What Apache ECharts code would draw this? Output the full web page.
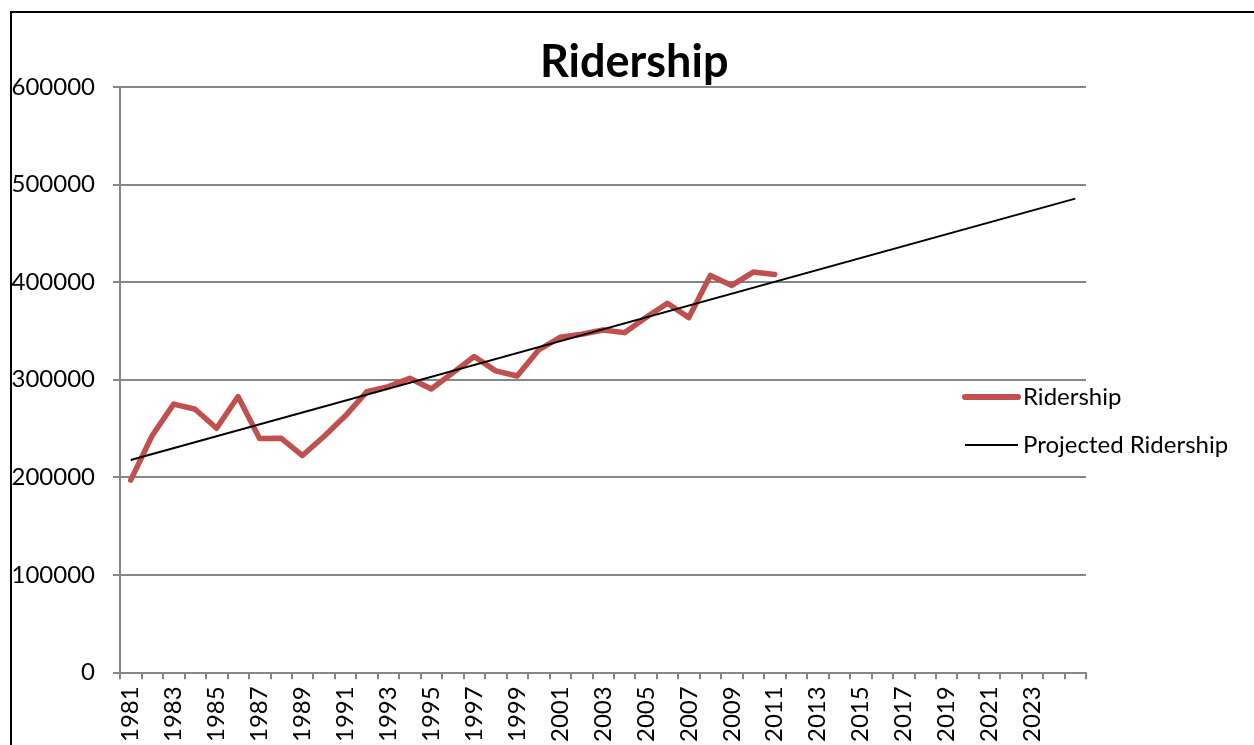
<!DOCTYPE html>
<html>
<head>
<meta charset="utf-8">
<script src="https://cdn.jsdelivr.net/npm/echarts@6/dist/echarts.min.js"></script>
<style>
  html, body { margin: 0; padding: 0; background: #fff; }
  #chart { width: 1254px; height: 745px; }
</style>
</head>
<body>
<div id="chart"></div>
<script>
// years on the category axis (Excel chart runs out to 2025)
var years = [];
for (var y = 1981; y <= 2025; y++) years.push(String(y));

// ridership, 1981 - 2011
var ridership = [
  197000, 242700, 274900, 269700, 250200, 282700, 239600, 240000, 222200, 241700,
  262900, 287800, 292900, 301500, 290400, 307000, 323800, 309000, 303800, 330400,
  343400, 346500, 350900, 348200, 363600, 378300, 363600, 406800, 396600, 410300,
  407800
];

// projected (trend) line: only the two ends are read, line joins them
var projected = [];
projected[0] = 217700;
projected[years.length - 1] = 485600;
for (var i = 0; i < years.length; i++) {
  if (projected[i] === undefined) projected[i] = null;
}

var gray = '#868686';
var red = '#C0504D';
var font = 'Lato, "Open Sans", sans-serif';

var chart = echarts.init(document.getElementById('chart'));

var option = {
  animation: false,
  backgroundColor: '#fff',
  textStyle: { fontFamily: font },
  title: {
    text: 'Ridership',
    left: 535,
    top: 35,
    textStyle: { fontSize: 45, fontWeight: 'bold', color: '#000', fontFamily: font }
  },
  graphic: [{
    type: 'rect',
    shape: { x: 11, y: 12, width: 1300, height: 800 },
    style: { fill: null, stroke: '#000', lineWidth: 2 },
    silent: true
  }],
  legend: {
    orient: 'vertical',
    left: 957,
    top: 380,
    itemWidth: 53,
    itemHeight: 14,
    itemGap: 24,
    itemStyle: { opacity: 0 },
    textStyle: { fontSize: 24, color: '#000', fontFamily: font },
    data: [
      { name: 'Ridership', lineStyle: { width: 6, cap: 'round', color: red } },
      { name: 'Projected Ridership', lineStyle: { width: 2, color: '#000' } }
    ]
  },
  grid: { left: 120, right: 168, top: 87, bottom: 72 },
  xAxis: {
    type: 'category',
    data: years,
    boundaryGap: true,
    axisLine: { lineStyle: { color: gray, width: 2 } },
    axisTick: { show: true, interval: 0, length: 7, lineStyle: { color: gray, width: 2 } },
    axisLabel: {
      rotate: 90,
      margin: 14,
      fontSize: 24,
      color: '#000',
      fontFamily: font,
      interval: function (index, value) {
        return index % 2 === 0 && index < years.length - 1;
      }
    },
    splitLine: { show: false }
  },
  yAxis: {
    type: 'value',
    min: 0,
    max: 600000,
    interval: 100000,
    axisLine: { show: true, lineStyle: { color: gray, width: 2 } },
    axisTick: { show: true, length: 7, lineStyle: { color: gray, width: 2 } },
    axisLabel: {
      fontSize: 24, color: '#000', margin: 25, fontFamily: font,
      formatter: function (v) { return String(v); }
    },
    splitLine: { show: true, lineStyle: { color: gray, width: 2 } }
  },
  series: [
    {
      name: 'Ridership',
      type: 'line',
      data: ridership,
      showSymbol: false,
      color: red,
      lineStyle: { color: red, width: 5.5, cap: 'round', join: 'round' },
      z: 3
    },
    {
      name: 'Projected Ridership',
      type: 'line',
      data: projected,
      connectNulls: true,
      showSymbol: false,
      color: '#000',
      lineStyle: { color: '#000', width: 2 },
      z: 4
    }
  ]
};

chart.setOption(option);
</script>
</body>
</html>
